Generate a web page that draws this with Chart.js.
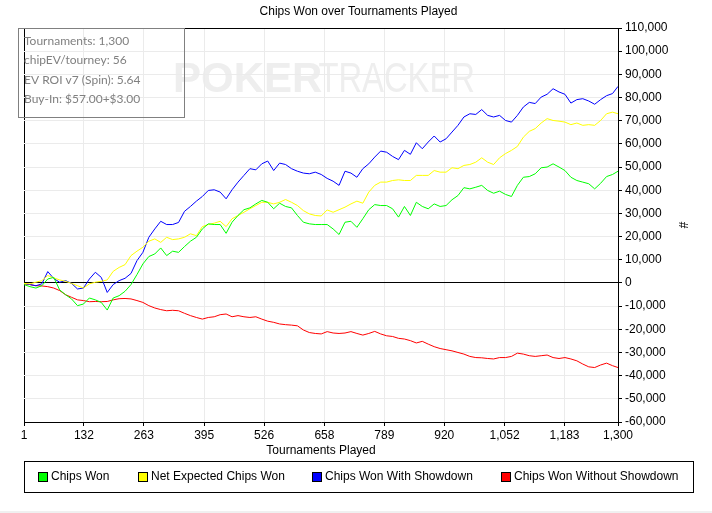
<!DOCTYPE html>
<html>
<head>
<meta charset="utf-8">
<title>Chips Won over Tournaments Played</title>
<script src="https://cdn.jsdelivr.net/npm/chart.js@4.4.1/dist/chart.umd.min.js"></script>
<style>
    html, body { margin: 0; padding: 0; background: #f0f0f0; }
    #wrap { width: 712px; height: 511px; background: #fff; }
</style>
</head>
<body>
<div id="wrap"><canvas id="chipsChart" width="712" height="511"></canvas></div>
<script>
// tournament index of every sampled point (one sample each 13 tourneys)
var tourneys = [];
for (var i = 0; i <= 100; i++) {
    tourneys.push(Math.min(1 + i * 13, 1300));
}

var xTicks = [1, 132, 263, 395, 526, 658, 789, 920, 1052, 1183, 1300];

var chipsWon = [
    -700, -1600, -2200, -1200, 1700, 2400, -3000, -5100, -6900, -9800,
    -9100, -6500, -7300, -8400, -11700, -6500, -5500, -3600, -700, 3600,
    8200, 11400, 12500, 15100, 11800, 13700, 13200, 15700, 18000, 19700,
    23300, 25500, 25200, 25200, 21400, 26200, 29100, 31600, 32400, 34100,
    35600, 34800, 32000, 34400, 33000, 32400, 29100, 26200, 25500, 25200,
    25200, 25200, 23300, 20900, 26200, 26600, 24000, 27700, 31600, 33800,
    33400, 33400, 32000, 28400, 33000, 29100, 34800, 33000, 32000, 34100,
    33000, 33400, 35900, 37700, 41100, 40600, 41300, 42100, 39900, 38700,
    39600, 38200, 37300, 42100, 45600, 45900, 47100, 49700, 50000, 51400,
    50000, 48500, 45600, 44200, 43500, 42800, 40600, 43000, 45900, 46800,
    48200
];
var netExpected = [
    -200, -400, 300, 1000, 3200, 2200, 1300, 700, -200, -1200,
    -2200, -400, 300, 700, 1300, 5000, 6700, 7900, 11800, 13700,
    15400, 18000, 19000, 17500, 19700, 18700, 19000, 19700, 21200, 20400,
    24300, 25200, 25800, 26600, 24300, 27700, 29100, 30500, 32000, 33400,
    34800, 34800, 34100, 34800, 36000, 34800, 33400, 31200, 29800, 29100,
    28900, 31500, 30500, 31600, 32700, 34100, 35300, 34400, 39200, 42100,
    43500, 43500, 44200, 44500, 44200, 44200, 46400, 46400, 46400, 48500,
    47800, 47800, 49700, 49300, 50700, 51100, 52100, 54000, 52100, 51100,
    54000, 55800, 57200, 58900, 62900, 65400, 66600, 69000, 70900, 70100,
    69800, 69400, 68300, 69000, 68000, 68300, 68000, 70100, 73000, 73700,
    73000
];
var wonWithShowdown = [
    -200, -700, -1200, -400, 4900, 1900, 300, 1000, -200, -2600,
    -2200, 1700, 4600, 2400, -4100, -700, 1000, 2000, 4100, 9600,
    13200, 19700, 23300, 26600, 25200, 25200, 26100, 30900, 33000, 35300,
    37300, 39900, 40200, 39200, 36300, 40200, 43500, 46400, 49300, 48800,
    51400, 52600, 48500, 51700, 51100, 49300, 48200, 47400, 47100, 47800,
    46800, 45100, 43900, 42100, 48200, 47400, 45600, 49300, 51400, 54300,
    56900, 56400, 54600, 53200, 57200, 55500, 60500, 57900, 60800, 63400,
    60800, 62200, 65100, 68000, 71600, 73000, 72700, 74800, 72300, 71600,
    72300, 70100, 69400, 72300, 75900, 77900, 77400, 80200, 81400, 83800,
    82400, 81400, 77600, 79100, 79500, 78500, 77100, 79100, 80800, 81700,
    84800
];
var wonWithoutShowdown = [
    -400, -700, -1200, -1300, -1600, -2200, -3300, -5100, -6200, -7300,
    -7600, -8100, -8000, -8100, -8000, -7300, -6800, -6700, -6900, -7600,
    -8400, -9800, -10800, -11500, -12000, -11800, -12000, -13100, -14100, -14900,
    -15600, -14900, -14600, -13700, -13400, -14600, -14100, -14600, -14900, -14600,
    -15600, -16500, -17000, -17700, -18000, -18200, -18500, -20300, -21400, -21800,
    -22000, -21000, -21600, -21800, -21600, -21000, -21800, -22500, -21800, -20900,
    -22000, -22800, -23100, -23900, -24200, -24900, -25900, -25200, -26400, -27500,
    -28300, -28800, -29300, -30000, -30700, -31700, -32200, -32300, -32600, -32800,
    -32200, -32200, -31700, -30300, -30700, -31400, -31700, -31400, -31100, -32200,
    -32600, -32200, -32800, -33600, -35000, -36200, -36500, -35400, -34600, -35700,
    -36500
];

var infoLines = [
    'Tournaments: 1,300',
    'chipEV/tourney: 56',
    'EV ROI v7 (Spin): 5.64',
    'Buy-In: $57.00+$3.00'
];

function toPoints(values) {
    return values.map(function(v, i) {
        return { x: tourneys[i], y: v };
    });
}

function fmt(v) {
    return Number(v).toLocaleString('en-US');
}

Chart.defaults.font.family = '"Liberation Sans", Arial, sans-serif';
Chart.defaults.font.size = 12;
Chart.defaults.color = '#000';

// watermark, stats box and framed legend
var decorPlugin = {
    id: 'decor',
    beforeDraw: function(chart) {
        var ctx = chart.ctx, area = chart.chartArea;
        var x = area.left + 149, y = area.top + 64;
        ctx.save();
        ctx.fillStyle = '#eeeeee';
        ctx.textBaseline = 'alphabetic';
        ctx.font = 'bold 42px "Liberation Sans"';
        ctx.fillText('POKER', x, y);
        var w = ctx.measureText('POKER').width;
        ctx.font = '42px "Liberation Sans"';
        ctx.translate(x + w * 0.96 + 2, y);
        ctx.scale(0.78, 1);
        ctx.fillText('TRACKER', 0, 0);
        ctx.restore();
    },
    afterDraw: function(chart) {
        var ctx = chart.ctx, area = chart.chartArea;
        ctx.save();

        // stats box
        ctx.strokeStyle = '#808080';
        ctx.lineWidth = 1;
        ctx.strokeRect(Math.round(area.left - 6) + 0.5, Math.round(area.top) + 0.5, 166, 89);
        ctx.fillStyle = '#808080';
        ctx.font = '12px Lato';
        ctx.textBaseline = 'middle';
        infoLines.forEach(function(t, i) {
            ctx.fillText(t, area.left, area.top + 13 + i * 19.5);
        });

        // legend
        var lx = Math.round(area.left), rx = Math.round(chart.scales.y.right);
        var ty = Math.round(chart.scales.x.bottom + 3);
        ctx.strokeStyle = '#000';
        ctx.strokeRect(lx + 0.5, ty + 0.5, rx - lx, 31);
        ctx.font = '12px "Liberation Sans"';
        var sets = chart.data.datasets;
        var widths = sets.map(function(ds) { return 13 + ctx.measureText(ds.label).width; });
        var total = widths.reduce(function(a, b) { return a + b; }, 0) + 28 * (sets.length - 1);
        var cx = (lx + rx) / 2 - total / 2;
        var cy = ty + 16;
        sets.forEach(function(ds, i) {
            var bx = Math.round(cx);
            ctx.fillStyle = ds.borderColor;
            ctx.fillRect(bx, Math.round(cy - 5), 9, 9);
            ctx.strokeStyle = '#000';
            ctx.strokeRect(bx + 0.5, Math.round(cy - 5) + 0.5, 9, 9);
            ctx.fillStyle = '#000';
            ctx.fillText(ds.label, bx + 13, cy);
            cx += widths[i] + 28;
        });
        ctx.restore();
    }
};

var chipsChart = new Chart(document.getElementById('chipsChart').getContext('2d'), {
    type: 'line',
    data: {
        datasets: [{
            label: 'Chips Won',
            data: toPoints(chipsWon),
            borderColor: '#00ff00',
            backgroundColor: '#00ff00'
        }, {
            label: 'Net Expected Chips Won',
            data: toPoints(netExpected),
            borderColor: '#ffff00',
            backgroundColor: '#ffff00'
        }, {
            label: 'Chips Won With Showdown',
            data: toPoints(wonWithShowdown),
            borderColor: '#0000ff',
            backgroundColor: '#0000ff'
        }, {
            label: 'Chips Won Without Showdown',
            data: toPoints(wonWithoutShowdown),
            borderColor: '#ff0000',
            backgroundColor: '#ff0000'
        }]
    },
    options: {
        responsive: false,
        animation: false,
        layout: { padding: { left: 24, right: 19, top: 0, bottom: 53 } },
        elements: {
            point: { radius: 0 },
            line: { borderWidth: 1, tension: 0, fill: false }
        },
        plugins: {
            legend: { display: false },
            tooltip: { enabled: false },
            title: {
                display: true,
                text: 'Chips Won over Tournaments Played',
                color: '#000',
                font: { size: 12, weight: 'normal' },
                padding: { top: 4, bottom: 9.6 }
            }
        },
        scales: {
            x: {
                type: 'linear',
                min: 1,
                max: 1300,
                afterBuildTicks: function(scale) {
                    scale.ticks = xTicks.map(function(v) { return { value: v }; });
                },
                afterFit: function(scale) { scale.height = 36; },
                ticks: {
                    autoSkip: false,
                    maxRotation: 0,
                    padding: 2,
                    color: '#000',
                    callback: function(v) { return fmt(v); }
                },
                grid: {
                    color: function(c) { return c.tick && c.tick.value === 1 ? '#000' : '#ebebeb'; },
                    tickColor: '#000',
                    tickLength: 4
                },
                border: { color: '#000', width: 1 },
                title: {
                    display: true,
                    text: 'Tournaments Played',
                    color: '#000',
                    padding: { top: 0, bottom: 0 }
                }
            },
            y: {
                position: 'right',
                min: -60000,
                max: 110000,
                afterFit: function(scale) { scale.width = 75; },
                ticks: {
                    stepSize: 10000,
                    padding: 3,
                    color: '#000',
                    callback: function(v) { return fmt(v); }
                },
                grid: {
                    color: function(c) {
                        if (!c.tick) return '#ebebeb';
                        return (c.tick.value === 0 || c.tick.value === 110000) ? '#000' : '#ebebeb';
                    },
                    tickColor: '#000',
                    tickLength: 4
                },
                border: { color: '#000', width: 1 },
                title: {
                    display: true,
                    text: '#',
                    color: '#000',
                    padding: { top: 3, bottom: 0 }
                }
            }
        }
    },
    plugins: [decorPlugin]
});
</script>
</body>
</html>
